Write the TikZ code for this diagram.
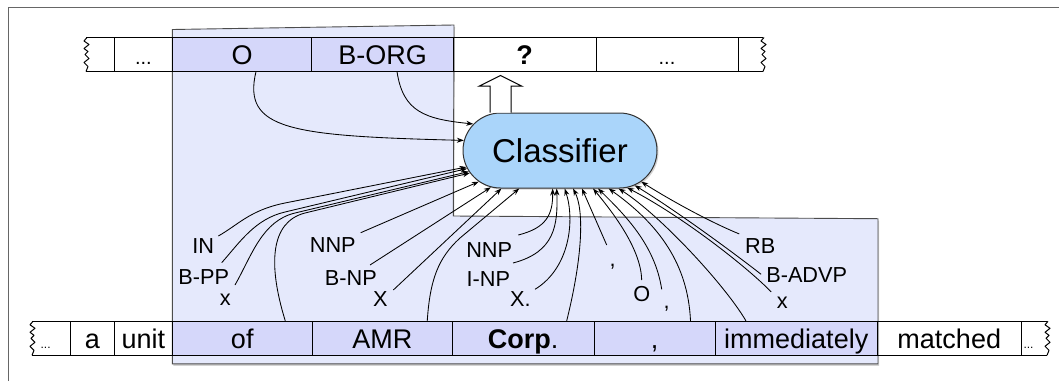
\documentclass[tikz,border=0pt]{standalone}
\usepackage{fontspec}
\setmainfont{Liberation Sans}
\usetikzlibrary{shapes.misc,shadows,arrows.meta}
\definecolor{cellblue}{RGB}{213,215,250}
\definecolor{regionblue}{RGB}{229,233,252}
\definecolor{clsblue}{RGB}{170,213,250}
\begin{document}
\begin{tikzpicture}[x=1pt,y=-1pt,
  cell/.style={draw=black, line width=1pt, minimum height=34pt, inner sep=0pt,
    font=\fontsize{27}{30}\selectfont, text height=19.5pt, text depth=0pt},
  hl/.style={cell, fill=cellblue},
  lab/.style={inner sep=0pt, anchor=base, font=\fontsize{21.7}{24}\selectfont},
  small/.style={inner sep=0pt, anchor=base},
  feat/.style={line width=0.85pt, -{Stealth[length=7pt,width=5pt]}},
  zig/.style={line width=1pt, line join=round},
  edge/.style={line width=1pt},
  torn/.pic={\draw[zig] (1,0) -- (-2,3.5) -- (3,7) -- (-2,11) -- (2,14) -- (-1,17) -- (3,21) -- (-2,25) -- (2,29) -- (0,34);},
]
\useasboundingbox (0,0) rectangle (1059,381);
% outer frame
\draw[black!60, line width=1pt] (8.5,381) -- (8.5,7) -- (1059,7);
% shaded window region
\path[fill=regionblue, draw=black!70, line width=0.9pt,
  drop shadow={shadow xshift=1pt, shadow yshift=-2pt, opacity=0.35}]
  (172.3,29.5) -- (454,25) -- (453.3,216) -- (878,218.7) -- (878,363.8) -- (172.3,363.8) -- cycle;

% top row
\draw[edge] (86,37.5) -- (114.5,37.5) (86,71) -- (114.5,71);
\draw[edge] (738,37.5) -- (763,37.5) (738,71) -- (763,71);
\pic at (86,37.5) {torn};
\pic at (763,37.5) {torn};
\node[cell, minimum width=57.8pt, minimum height=33.5pt, font=\fontsize{20}{24}\selectfont] (tA) at (143.4,54.25) {...};
\node[hl, minimum width=139.4pt, minimum height=33.5pt] (tO) at (242,54.25) {O};
\node[hl, minimum width=141.6pt, minimum height=33.5pt] (tB) at (382.5,54.25) {B-ORG};
\node[cell, minimum width=142.7pt, minimum height=33.5pt] (tQ) at (524.65,54.25) {\textbf{?}};
\node[cell, minimum width=142pt, minimum height=33.5pt, font=\fontsize{20}{24}\selectfont] (tD) at (667,54.25) {...};

% bottom row
\draw[edge] (32,321.3) -- (70,321.3) (32,355.3) -- (70,355.3);
\draw[edge] (1021,321.3) -- (1047,321.3) (1021,355.3) -- (1047,355.3);
\pic at (32,321.3) {torn};
\pic at (1047,321.3) {torn};
\node[small, font=\fontsize{12}{14}\selectfont] (bl) at (45.6,348) {...};
\node[small, font=\fontsize{12}{14}\selectfont] (br) at (1028.5,348) {...};
\node[cell, minimum width=44.9pt] (ba) at (92.45,338.3) {a};
\node[cell, minimum width=57.1pt] (bu) at (143.45,338.3) {unit};
\node[hl, minimum width=140.5pt] (bof) at (242.25,338.3) {of};
\node[hl, minimum width=139.5pt] (bAMR) at (382.25,338.3) {AMR};
\node[hl, minimum width=142pt] (bCorp) at (523,338.3) {\textbf{Corp}.};
\node[hl, minimum width=121pt] (bcomma) at (654.5,338.3) {,};
\node[hl, minimum width=162.5pt] (bimm) at (796.25,338.3) {immediately};
\node[cell, minimum width=143.5pt] (bmat) at (949.25,338.3) {matched};

% classifier
\node[draw=black!80, line width=1pt, fill=clsblue, rounded rectangle,
  minimum width=194pt, minimum height=75pt, inner sep=0pt,
  font=\fontsize{33}{36}\selectfont, text height=23.6pt, text depth=0pt,
  drop shadow={shadow xshift=1.5pt, shadow yshift=-1.5pt, opacity=0.35}] (cls) at (560,150.5) {Classifier};

% hollow output arrow
\draw[edge, fill=white, line join=miter, shift={(cls.north)}]
  (-70,0) -- (-70,-26.3) -- (-81,-26.3) -- (-59.5,-37) -- (-38,-26.3) -- (-49,-26.3) -- (-49,0);

% feature labels
\node[lab] (IN) at (203.3,253.3) {IN};
\node[lab] (BPP) at (203.8,284) {B-PP};
\node[lab] (xa) at (225.3,305) {x};
\node[lab] (NNPa) at (332.8,252.7) {NNP};
\node[lab] (BNP) at (350.8,285) {B-NP};
\node[lab] (Xa) at (380.3,306) {X};
\node[lab] (NNPb) at (489.2,257.3) {NNP};
\node[lab] (INP) at (488.3,286) {I-NP};
\node[lab] (Xb) at (520.3,306) {X.};
\node[lab] (cma) at (612.7,266) {,};
\node[lab] (Oc) at (641.7,301.7) {O};
\node[lab] (cmb) at (666.7,308) {,};
\node[lab] (RB) at (760.2,253.4) {RB};
\node[lab] (BADVP) at (806.7,282.8) {B-ADVP};
\node[lab] (xc) at (782.2,308.8) {x};

% connectors from previous predictions
\draw[feat] ([xshift=14pt]tO.south) .. controls (242,130) and (290,136) .. (cls.174);
\draw[feat] ([xshift=14.5pt]tB.south) .. controls (403,112) and (425,119) .. (cls.163.5);

% "of" features
\draw[feat] ([xshift=15pt,yshift=17.3pt]IN.base) .. controls (238,225) and (250,210) .. (285,203) -- (cls.190);
\draw[feat] ([xshift=17.9pt,yshift=21.3pt]BPP.base) .. controls (240,242) and (255,219) .. (285,212) -- (cls.191.5);
\draw[feat] ([xshift=9.7pt,yshift=20pt]xa.base) .. controls (252,255) and (262,221) .. (295,213) -- (cls.193);
\draw[feat] ([xshift=43pt]bof.north) .. controls (268,265) and (270,222) .. (305,213) -- (cls.194.5);

% "AMR" features
\draw[feat] ([xshift=27.9pt,yshift=20pt]NNPa.base) -- (cls.201);
\draw[feat] ([xshift=19.2pt,yshift=20pt]BNP.base) -- (cls.208);
\draw[feat] ([xshift=13pt,yshift=16pt]Xa.base) -- (cls.213);
\draw[feat] ([xshift=45pt]bAMR.north) .. controls (430,280) and (438,258) .. (460,238) -- (cls.223);

% "Corp." features
\draw[feat] ([xshift=29.1pt,yshift=22.3pt]NNPb.base) .. controls (546,228) and (553,215) .. (cls.259.4);
\draw[feat] ([xshift=24.7pt,yshift=23pt]INP.base) .. controls (555,252) and (558,225) .. (cls.265.4);
\draw[feat] ([xshift=14.7pt,yshift=16.7pt]Xb.base) .. controls (570,268) and (575,220) .. (cls.277.6);
\draw[feat] ([xshift=43.7pt]bCorp.north) .. controls (583,255) and (584,210) .. (cls.289);

% "," features
\draw[feat] ([xshift=-6pt,yshift=21pt]cma.base) -- (cls.300.4);
\draw[feat] ([yshift=21.7pt]Oc.base) .. controls (641,250) and (615,215) .. (cls.311.3);
\draw[feat] ([xshift=-5pt,yshift=18.7pt]cmb.base) .. controls (655,245) and (625,215) .. (cls.315.4);
\draw[feat] ([xshift=36pt]bcomma.north) .. controls (688,265) and (660,225) .. (cls.322);

% "immediately" features
\draw[feat] ([xshift=-21pt,yshift=19.5pt]RB.base) .. controls (710,222) and (670,200) .. (cls.339);
\draw[feat] ([xshift=-45.6pt,yshift=8.5pt]BADVP.base) .. controls (730,250) and (675,210) .. (cls.335.5);
\draw[feat] ([xshift=-11pt,yshift=16.9pt]xc.base) .. controls (745,265) and (680,215) .. (cls.331.5);
\draw[feat] ([xshift=-50.35pt]bimm.north) .. controls (725,285) and (660,215) .. (cls.327);
\end{tikzpicture}
\end{document}
